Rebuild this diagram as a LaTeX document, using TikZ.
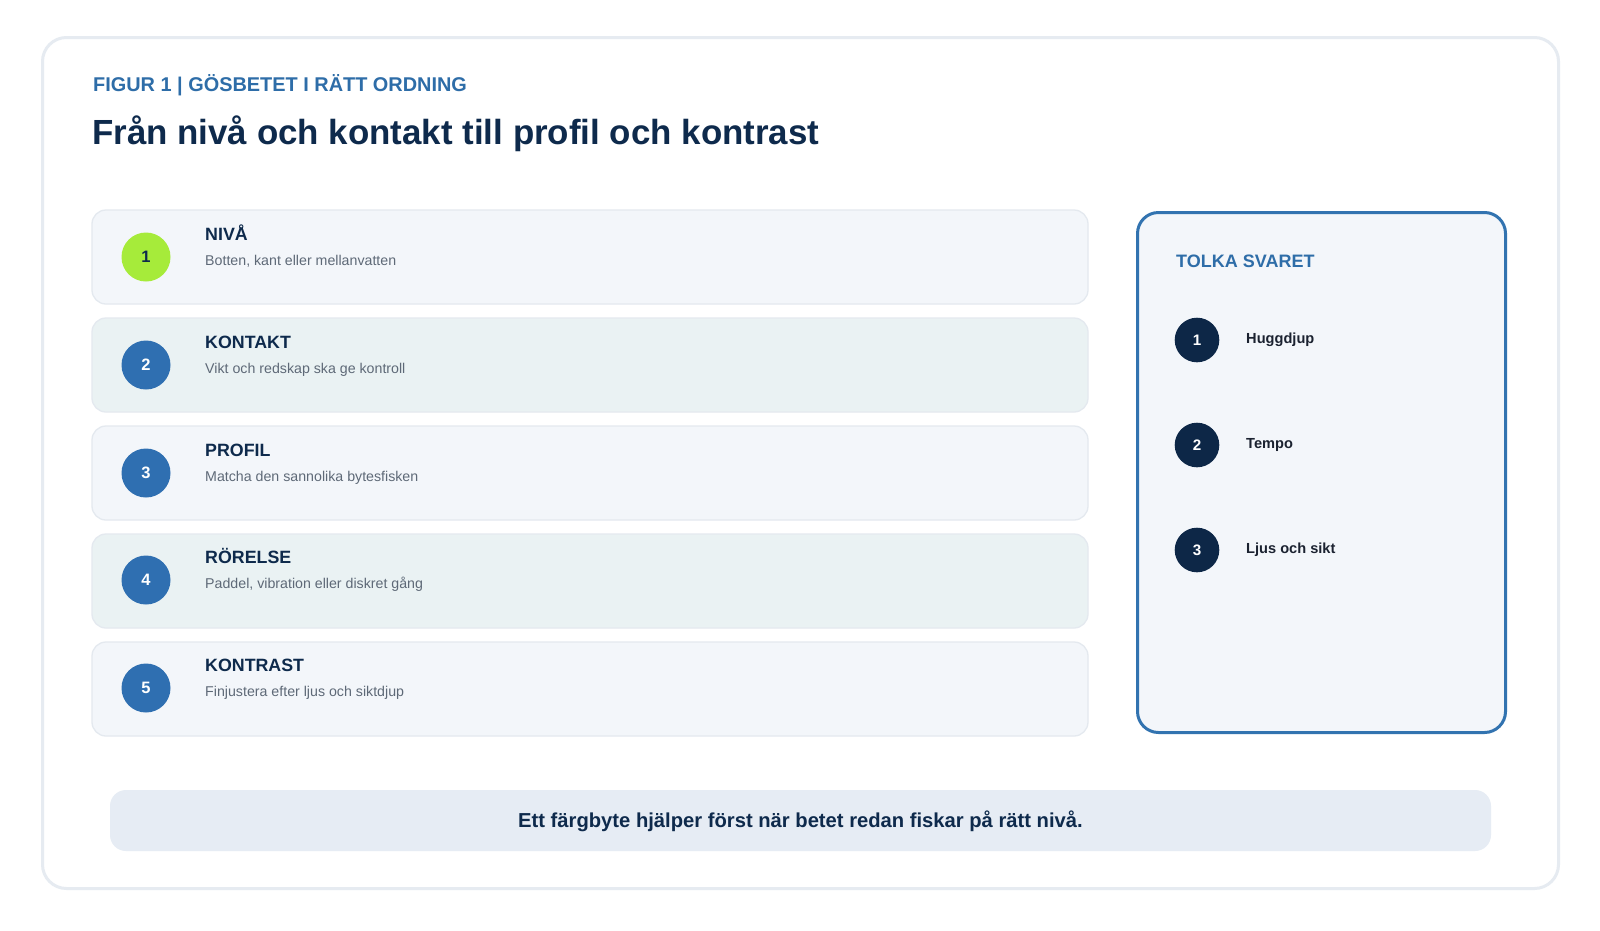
\documentclass[tikz,border=0pt]{standalone}
\usepackage{fontspec}
\setmainfont{Liberation Sans}
\definecolor{framecol}{HTML}{E6EBF1}
\definecolor{headblue}{HTML}{2E6DA8}
\definecolor{navy}{HTML}{0E2A4C}
\definecolor{cardA}{HTML}{F3F6FA}
\definecolor{cardB}{HTML}{EAF2F3}
\definecolor{cardline}{HTML}{E4E9EF}
\definecolor{lime}{HTML}{A6EB3A}
\definecolor{stepblue}{HTML}{2F6FB1}
\definecolor{subgrey}{HTML}{5E6977}
\definecolor{panelline}{HTML}{3273B0}
\definecolor{darkcirc}{HTML}{0D2747}
\definecolor{labelcol}{HTML}{1B2230}
\definecolor{barfill}{HTML}{E6ECF4}
\newcommand{\setfs}[1]{\fontsize{#1}{#1}\selectfont}
\begin{document}
\begin{tikzpicture}[x=1pt,y=-1pt,
  frame/.style={draw=framecol, line width=3pt, fill=white, rounded corners=24pt,
    minimum width=1516pt, minimum height=851pt, inner sep=0pt, outer sep=0pt},
  card/.style={draw=cardline, line width=1.3pt, rounded corners=14pt,
    minimum width=996pt, minimum height=94pt, inner sep=0pt, outer sep=0pt},
  stepcirc/.style={circle, fill=stepblue, minimum size=49pt, inner sep=0pt,
    text=white, font=\setfs{16.5}\bfseries},
  firstcirc/.style={stepcirc, fill=lime, text=navy},
  ctitle/.style={anchor=base west, inner sep=0pt, text=navy, font=\setfs{17.8}\bfseries},
  csub/.style={anchor=base west, inner sep=0pt, text=subgrey, font=\setfs{14.2}},
  panel/.style={draw=panelline, line width=3pt, fill=cardA, rounded corners=21pt,
    minimum width=368pt, minimum height=520pt, inner sep=0pt, outer sep=0pt},
  smallcirc/.style={circle, fill=darkcirc, minimum size=44.6pt, inner sep=0pt,
    text=white, font=\setfs{15.2}\bfseries},
  plabel/.style={anchor=base west, inner sep=0pt, text=labelcol, font=\setfs{14.6}\bfseries},
  bar/.style={fill=barfill, rounded corners=16pt, minimum width=1381pt,
    minimum height=61pt, inner sep=0pt, outer sep=0pt}
]
\useasboundingbox (0,0) rectangle (1600,930);
\fill[white] (0,0) rectangle (1600,930);
\node[frame] (frame) at (800.5,463) {};

\node[anchor=base west, inner sep=0pt, text=headblue, font=\setfs{19.9}\bfseries]
  (kicker) at (93,91) {FIGUR 1 | GÖSBETET I RÄTT ORDNING};
\node[anchor=base west, inner sep=0pt, text=navy, font=\setfs{34.9}\bfseries]
  (title) at (92,144) {Från nivå och kontakt till profil och kontrast};

% cards
\node[card, fill=cardA] (card1) at (590,257) {};
\node[card, fill=cardB] (card2) at (590,365) {};
\node[card, fill=cardA] (card3) at (590,473) {};
\node[card, fill=cardB] (card4) at (590,581) {};
\node[card, fill=cardA] (card5) at (590,689) {};

\node[firstcirc] (n1) at (146,257) {1};
\node[stepcirc] (n2) at (146,365) {2};
\node[stepcirc] (n3) at (146,473) {3};
\node[stepcirc] (n4) at (146,580) {4};
\node[stepcirc] (n5) at (146,688) {5};

\node[ctitle] (t1) at (205,240) {NIVÅ};
\node[csub] (s1) at (205,265) {Botten, kant eller mellanvatten};
\node[ctitle] (t2) at (205,348) {KONTAKT};
\node[csub] (s2) at (205,373) {Vikt och redskap ska ge kontroll};
\node[ctitle] (t3) at (205,456) {PROFIL};
\node[csub] (s3) at (205,481) {Matcha den sannolika bytesfisken};
\node[ctitle] (t4) at (205,563) {RÖRELSE};
\node[csub] (s4) at (205,588) {Paddel, vibration eller diskret gång};
\node[ctitle] (t5) at (205,671) {KONTRAST};
\node[csub] (s5) at (205,696) {Finjustera efter ljus och siktdjup};

% side panel
\node[panel] (panel) at (1321.5,472.5) {};
\node[anchor=base west, inner sep=0pt, text=headblue, font=\setfs{18}\bfseries]
  (ptitle) at (1176,267) {TOLKA SVARET};
\node[smallcirc] (p1) at (1197,340) {1};
\node[smallcirc] (p2) at (1197,445) {2};
\node[smallcirc] (p3) at (1197,550) {3};
\node[plabel] (l1) at (1246,343) {Huggdjup};
\node[plabel] (l2) at (1246,448) {Tempo};
\node[plabel] (l3) at (1246,553) {Ljus och sikt};

% bottom bar
\node[bar] (bar) at (800.5,820.5) {};
\node[anchor=base, inner sep=0pt, text=navy, font=\setfs{20.2}\bfseries]
  (bartext) at (800.5,827.5) {Ett färgbyte hjälper först när betet redan fiskar på rätt nivå.};
\end{tikzpicture}
\end{document}
